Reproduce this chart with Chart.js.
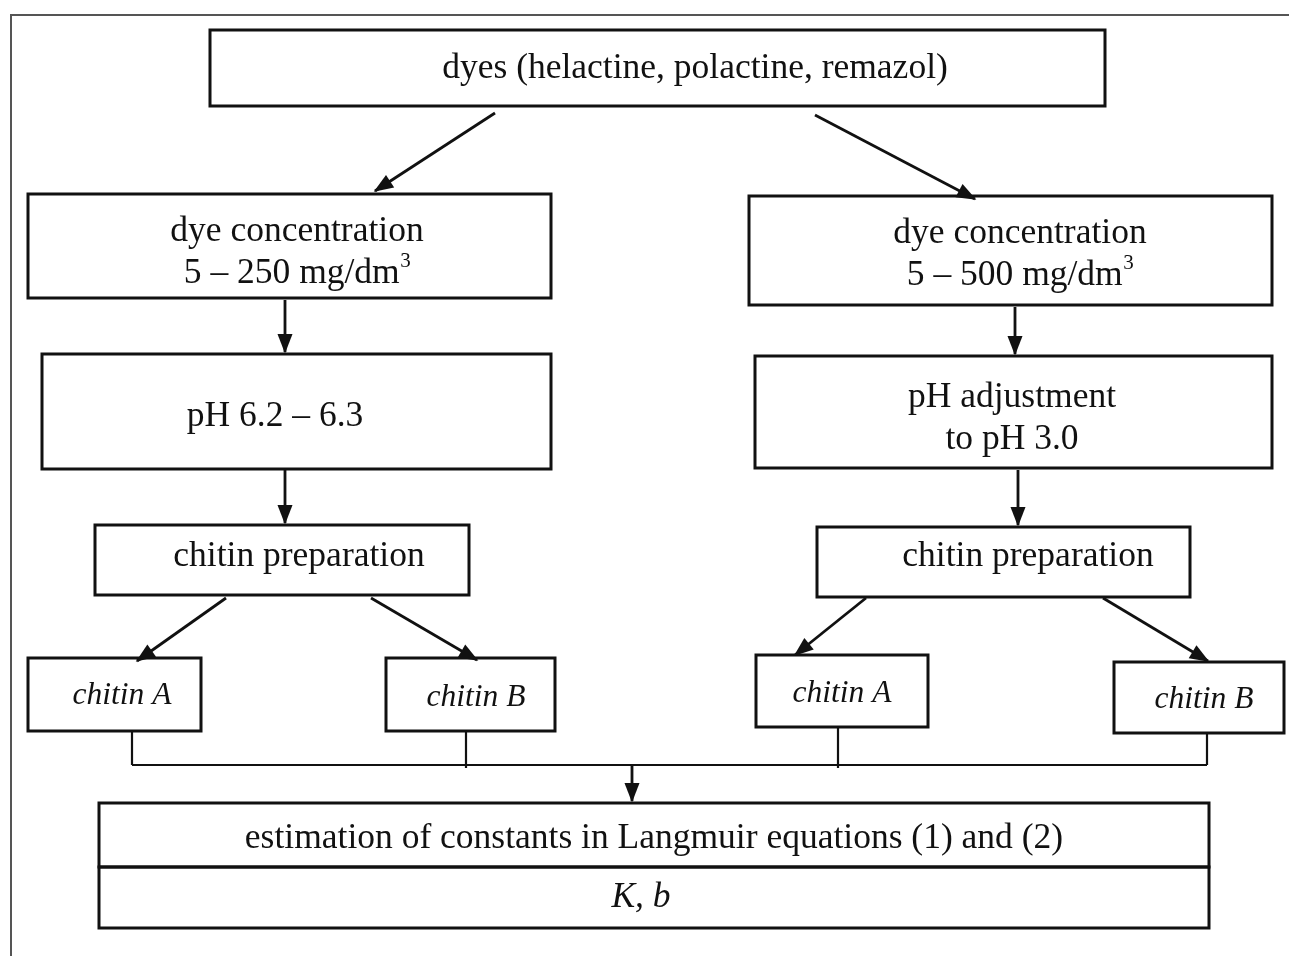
<!DOCTYPE html>
<html>
<head>
<title>Dye adsorption on chitin - scheme</title>
<script src="https://cdn.jsdelivr.net/npm/chart.js"></script>
<style>
    body { margin: 0; background: #fff; }
    .wrap { width: 1289px; height: 956px; position: relative; }
</style>
</head>
<body>
<div class="wrap"><canvas id="flow"></canvas></div>
<script>
// Box texts ('\n' splits lines, '^' starts a superscript)
const boxText = [
    'dyes (helactine, polactine, remazol)',
    'dye concentration\n5 – 250 mg/dm^3',
    'dye concentration\n5 – 500 mg/dm^3',
    'pH 6.2 – 6.3',
    'pH adjustment\nto pH 3.0',
    'chitin preparation',
    'chitin preparation',
    'chitin A',
    'chitin B',
    'chitin A',
    'chitin B',
    'estimation of constants in Langmuir equations (1) and (2)',
    'K, b'
];
const boxItalic = [false, false, false, false, false, false, false, true, true, true, true, false, true];
const boxFontSize = [35.5, 35.5, 35.5, 35.5, 35.5, 35.5, 35.5, 31.5, 31.5, 31.5, 31.5, 35.5, 35.5];

// box edges, in page units (y grows downward)
const boxLeft   = [210,  28,  749,  42,  755,  95, 817,  28, 386, 756, 1114,   99,   99];
const boxRight  = [1105, 551, 1272, 551, 1272, 469, 1190, 201, 555, 928, 1284, 1209, 1209];
const boxTop    = [30,  194,  196, 354,  356, 525, 527, 658, 658, 655,  662,  803,  867];
const boxBottom = [106, 298,  305, 469,  468, 595, 597, 731, 731, 727,  733,  867,  928];

// where the first line of each text sits
const textX = [695, 297, 1020, 275, 1012, 299, 1028, 122, 476, 842, 1204, 654, 641];
const textY = [69, 232, 234, 417, 398, 557, 557, 696, 698, 694, 700, 839, 898];

// arrows (tail -> head)
const arrowFromX = [495, 815, 285, 1015, 285, 1018, 226, 371, 866, 1103, 632];
const arrowFromY = [113, 115, 300, 307, 469, 470, 598, 598, 598, 598, 765];
const arrowToX   = [375, 975, 285, 1015, 285, 1018, 137, 477, 795, 1208, 632];
const arrowToY   = [191, 199, 352, 354, 523, 525, 661, 660, 655, 661, 801];

// collector lines under the chitin boxes
const dropX      = [132, 466, 838, 1207];
const dropTop    = [731, 731, 727, 733];
const dropBottom = [765, 768, 768, 765];
const busY = 765;

const datasets = [];

// page frame (top and left edges only)
datasets.push({ data: [{x: 11, y: 956}, {x: 11, y: 15}, {x: 1289, y: 15}],
    borderColor: '#555', borderWidth: 2 });

boxText.forEach((t, i) => {
    datasets.push({
        data: [
            {x: boxLeft[i], y: boxTop[i]}, {x: boxRight[i], y: boxTop[i]},
            {x: boxRight[i], y: boxBottom[i]}, {x: boxLeft[i], y: boxBottom[i]},
            {x: boxLeft[i], y: boxTop[i]}, {x: boxRight[i], y: boxTop[i]}
        ],
        borderColor: '#111', borderWidth: 3, borderJoinStyle: 'miter'
    });
});

arrowFromX.forEach((x, i) => {
    datasets.push({
        data: [{x: x, y: arrowFromY[i]}, {x: arrowToX[i], y: arrowToY[i]}],
        borderColor: '#111', borderWidth: 2.8
    });
});

dropX.forEach((x, i) => {
    datasets.push({ data: [{x: x, y: dropTop[i]}, {x: x, y: dropBottom[i]}],
        borderColor: '#111', borderWidth: 2.2 });
});
datasets.push({ data: [{x: dropX[0], y: busY}, {x: dropX[dropX.length - 1], y: busY}],
    borderColor: '#111', borderWidth: 2.2 });

datasets.forEach(d => {
    d.showLine = true;
    d.pointRadius = 0;
    d.tension = 0;
    d.fill = false;
    d.clip = false;
});

const flowPlugin = {
    id: 'flow',
    afterDatasetsDraw(chart) {
        const ctx = chart.ctx;
        const sx = chart.scales.x, sy = chart.scales.y;
        ctx.save();

        // arrow heads
        ctx.fillStyle = '#111';
        arrowToX.forEach((x, i) => {
            const hx = sx.getPixelForValue(x), hy = sy.getPixelForValue(arrowToY[i]);
            const tx = sx.getPixelForValue(arrowFromX[i]), ty = sy.getPixelForValue(arrowFromY[i]);
            const a = Math.atan2(hy - ty, hx - tx);
            const len = 18, half = 7.5;
            ctx.beginPath();
            ctx.moveTo(hx + 1.5 * Math.cos(a), hy + 1.5 * Math.sin(a));
            ctx.lineTo(hx - len * Math.cos(a) + half * Math.sin(a), hy - len * Math.sin(a) - half * Math.cos(a));
            ctx.lineTo(hx - len * Math.cos(a) - half * Math.sin(a), hy - len * Math.sin(a) + half * Math.cos(a));
            ctx.closePath();
            ctx.fill();
        });

        // texts
        ctx.fillStyle = '#111';
        ctx.textBaseline = 'middle';
        ctx.textAlign = 'left';
        boxText.forEach((t, i) => {
            const style = boxItalic[i] ? 'italic ' : '';
            const size = boxFontSize[i];
            const main = style + size + 'px "Liberation Serif", "Times New Roman", serif';
            const sup = style + Math.round(size * 0.6) + 'px "Liberation Serif", "Times New Roman", serif';
            t.split('\n').forEach((line, k) => {
                const parts = line.split('^');
                ctx.font = main;
                let w = ctx.measureText(parts[0]).width;
                let ws = 0;
                if (parts[1]) { ctx.font = sup; ws = ctx.measureText(parts[1]).width; }
                const cx = sx.getPixelForValue(textX[i]);
                const cy = sy.getPixelForValue(textY[i] + k * 42);
                const x0 = cx - (w + ws) / 2;
                ctx.font = main;
                ctx.fillText(parts[0], x0, cy);
                if (parts[1]) {
                    ctx.font = sup;
                    ctx.fillText(parts[1], x0 + w + 0.5, cy - 13);
                }
            });
        });
        ctx.restore();
    }
};

new Chart(document.getElementById('flow'), {
    type: 'scatter',
    data: { datasets: datasets },
    options: {
        responsive: true,
        maintainAspectRatio: false,
        animation: false,
        layout: { padding: 0 },
        scales: {
            x: { type: 'linear', min: 0, max: 1289, display: false },
            y: { type: 'linear', min: 0, max: 956, reverse: true, display: false }
        },
        plugins: { legend: { display: false }, tooltip: { enabled: false } }
    },
    plugins: [flowPlugin]
});
</script>
</body>
</html>
